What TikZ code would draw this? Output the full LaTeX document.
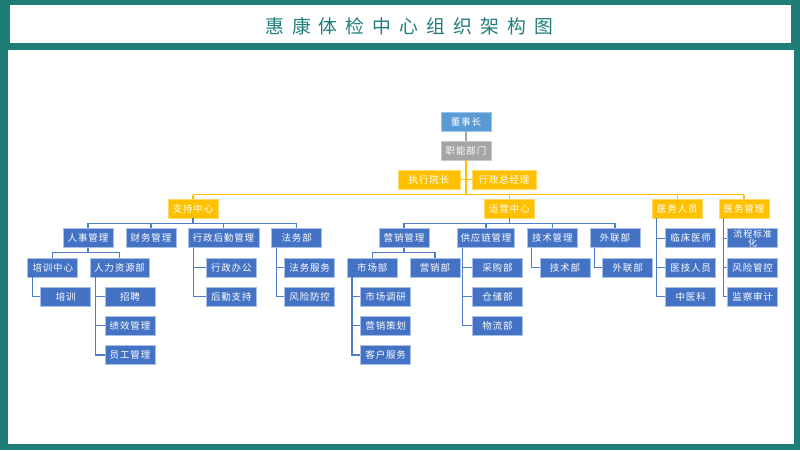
\documentclass[tikz,border=0pt]{standalone}
\usepackage{fontspec}
\newfontfamily\cjkb[LetterSpace=9]{Noto Sans CJK SC}
\newfontfamily\cjkt[LetterSpace=43]{Noto Sans CJK SC}
\usetikzlibrary{calc}
\definecolor{tealC}{HTML}{1F7D78}
\definecolor{tealT}{HTML}{1F7F7A}
\definecolor{blueC}{HTML}{4472C4}
\definecolor{blueL}{HTML}{A9BFE6}
\definecolor{blueLine}{HTML}{4F7BC8}
\definecolor{topblue}{HTML}{5B9BD5}
\definecolor{topblueL}{HTML}{9DC3E6}
\definecolor{grayC}{HTML}{A5A5A5}
\definecolor{grayL}{HTML}{C9C9C9}
\definecolor{gold}{HTML}{FFC000}
\definecolor{goldL}{HTML}{FFD966}
\begin{document}
\begin{tikzpicture}[x=1pt,y=-1pt,
  box/.style={rectangle, minimum width=50pt, minimum height=19pt, inner sep=0pt,
    fill=blueC, draw=blueL, line width=0.7pt, text=white,
    font=\cjkb\fontsize{9.5}{9.5}\selectfont},
  topbox/.style={box, fill=topblue, draw=topblueL},
  graybox/.style={box, fill=grayC, draw=grayL},
  goldbox/.style={box, fill=gold, draw=goldL},
  bl/.style={draw=blueLine, line width=1.2pt},
  yl/.style={draw=gold, line width=1.2pt},
  gl/.style={draw=grayC, line width=1.2pt}]
\useasboundingbox (0,0) rectangle (800,450);
% frame
\fill[tealC] (0,0) rectangle (800,450);
\fill[white] (10,5) rectangle (791,43);
\fill[white] (8,50) rectangle (794,444);
\node[font=\cjkt\fontsize{18.8}{18.8}\selectfont, text=tealT] (title) at (409,26.5) {惠康体检中心组织架构图};

% top levels
\node[topbox] (dsz) at (466,121.5) {董事长};
\node[graybox] (zn) at (466,150.5) {职能部门};
\node[goldbox, minimum width=62pt] (zx) at (429,179.5) {执行院长};
\node[goldbox, minimum width=64pt] (xz) at (504,179.5) {行政总经理};

\node[goldbox] (zc) at (193,208.5) {支持中心};
\node[goldbox] (yy) at (509.3,208.5) {运营中心};
\node[goldbox] (ywry) at (677.3,208.5) {医务人员};
\node[goldbox] (ywgl) at (744,208.5) {医务管理};

% row E
\node[box] (rs) at (88,238.3) {人事管理};
\node[box] (cw) at (151,238.3) {财务管理};
\node[box, minimum width=71pt] (xh) at (223.5,238.3) {行政后勤管理};
\node[box] (fw) at (296.7,238.3) {法务部};
\node[box] (yxgl) at (404,238.3) {营销管理};
\node[box, minimum width=57pt] (gyl) at (486,238.3) {供应链管理};
\node[box] (jsgl) at (552.3,238.3) {技术管理};
\node[box] (wl) at (615,238.3) {外联部};
\node[box] (lc) at (690.7,238.3) {临床医师};
\node[box, align=center, font=\cjkb\fontsize{9}{8.8}\selectfont] (lcbz) at (752.7,238.3) {流程标准\\化};

% row F
\node[box] (pxzx) at (52.8,267.5) {培训中心};
\node[box, minimum width=59pt] (rlzy) at (119.5,267.5) {人力资源部};
\node[box] (xzbg) at (231.3,267.5) {行政办公};
\node[box] (fwfw) at (309.7,267.5) {法务服务};
\node[box] (scb) at (372.3,267.5) {市场部};
\node[box] (yxb) at (435,267.5) {营销部};
\node[box] (cgb) at (497.5,267.5) {采购部};
\node[box] (jsb) at (565,267.5) {技术部};
\node[box] (wlb) at (627.7,267.5) {外联部};
\node[box] (yj) at (690.7,267.5) {医技人员};
\node[box] (fxgk) at (752.7,267.5) {风险管控};

% row G
\node[box] (px) at (65.8,296.5) {培训};
\node[box] (zp) at (130,296.5) {招聘};
\node[box] (hq) at (231.3,296.5) {后勤支持};
\node[box] (fxfk) at (309.7,296.5) {风险防控};
\node[box] (scdy) at (385.7,296.5) {市场调研};
\node[box] (ccb) at (497.5,296.5) {仓储部};
\node[box] (zyk) at (690.7,296.5) {中医科};
\node[box] (jcsj) at (752.7,296.5) {监察审计};

% row H
\node[box] (jx) at (130,325.5) {绩效管理};
\node[box] (yxch) at (385.7,325.5) {营销策划};
\node[box] (wlbu) at (497.5,325.5) {物流部};

% row I
\node[box] (yg) at (130,355) {员工管理};
\node[box] (khfw) at (385.7,355) {客户服务};

% bus coordinates
\coordinate (by) at (0,194.8);
\coordinate (b1) at (0,223.3);
\coordinate (b2) at (0,252.3);

% connectors: top
\draw[gl] (dsz.south) -- (zn.north);
\draw[yl] (zn.south) -- (zn.south |- by);
\draw[yl] (zx.east) -- (xz.west);
\draw[yl] (zc.north |- by) -- (ywgl.north |- by);
\draw[yl] (zc.north |- by) -- (zc.north);
\draw[yl] (yy.north |- by) -- (yy.north);
\draw[yl] (ywry.north |- by) -- (ywry.north);
\draw[yl] (ywgl.north |- by) -- (ywgl.north);

% support centre
\draw[bl] (zc.south) -- (zc.south |- b1);
\draw[bl] (rs.north |- b1) -- (fw.north |- b1);
\foreach \n in {rs,cw,xh,fw} \draw[bl] (\n.north |- b1) -- (\n.north);
\draw[bl] (rs.south) -- (rs.south |- b2);
\draw[bl] (pxzx.north |- b2) -- (rlzy.north |- b2);
\draw[bl] (pxzx.north |- b2) -- (pxzx.north);
\draw[bl] (rlzy.north |- b2) -- (rlzy.north);
\draw[bl] ($(pxzx.south west)+(5,0)$) |- (px.west);
\foreach \n in {zp,jx,yg} \draw[bl] ($(rlzy.south west)+(6,0)$) |- (\n.west);
\foreach \n in {xzbg,hq} \draw[bl] ($(xh.south west)+(6,0)$) |- (\n.west);
\foreach \n in {fwfw,fxfk} \draw[bl] ($(fw.south west)+(5,0)$) |- (\n.west);

% operations centre
\draw[bl] (yy.south) -- (yy.south |- b1);
\draw[bl] (yxgl.north |- b1) -- (wl.north |- b1);
\foreach \n in {yxgl,gyl,jsgl,wl} \draw[bl] (\n.north |- b1) -- (\n.north);
\draw[bl] (yxgl.south) -- (yxgl.south |- b2);
\draw[bl] (scb.north |- b2) -- (yxb.north |- b2);
\draw[bl] (scb.north |- b2) -- (scb.north);
\draw[bl] (yxb.north |- b2) -- (yxb.north);
\foreach \n in {scdy,yxch,khfw} \draw[bl] ($(scb.south west)+(5,0)$) |- (\n.west);
\foreach \n in {cgb,ccb,wlbu} \draw[bl] ($(gyl.south west)+(5,0)$) |- (\n.west);
\draw[bl] ($(jsgl.south west)+(4.5,0)$) |- (jsb.west);
\draw[bl] ($(wl.south west)+(4.5,0)$) |- (wlb.west);

% medical
\foreach \n in {lc,yj,zyk} \draw[bl] ($(ywry.south west)+(4.5,0)$) |- (\n.west);
\foreach \n in {lcbz,fxgk,jcsj} \draw[bl] ($(ywgl.south west)+(4.5,0)$) |- (\n.west);
\end{tikzpicture}
\end{document}
